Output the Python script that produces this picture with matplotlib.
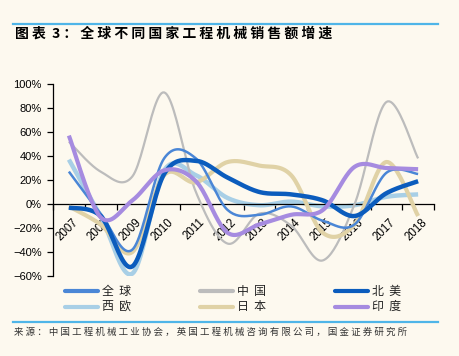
import numpy as np
import matplotlib
matplotlib.use("Agg")
import matplotlib.pyplot as plt
import matplotlib.transforms as mtransforms
from matplotlib.lines import Line2D
from matplotlib.ticker import FuncFormatter, FixedLocator

# 数据（年度销售额增速，%）
years = ["2007", "2008", "2009", "2010", "2011", "2012",
         "2013", "2014", "2015", "2016", "2017", "2018"]
quanqiu = [27, -8, -38, 38, 38, -5, -9, -2, -14, -17, 26, 25]
zhongguo = [52, 27, 23, 93, 10, -33, -8, -18, -47, 0, 85, 38]
beimei = [-3, -10, -52, 25, 36, 22, 10, 8, 3, -10, 9, 19]
xiou = [37, -10, -58, 28, 24, 5, -1, 2, -2, -1, 6, 8]
riben = [-2, -17, -40, 24, 18, 35, 32, 24, -24, -17, 35, -10]
yindu = [57, -11, 3, 28, 19, -24, -17, -9, -5, 31, 30, 29]

names = ["全  球", "西  欧", "中  国", "日  本", "北  美", "印  度"]
series = [quanqiu, xiou, zhongguo, riben, beimei, yindu]
colors = ["#4a86d6", "#a8cfe6", "#bcbcbc", "#e0d2a6", "#0b5cbd", "#a68be0"]
widths = [1.8, 3.2, 1.6, 3.0, 3.2, 3.0]
zorders = [5, 2, 3, 4, 6, 7]

bg = "#fdf9ef"
cjk = ["Noto Sans CJK SC", "DejaVu Sans"]


def smooth(vals, n=24):
    # Excel 风格的平滑曲线（贝塞尔）
    pts = np.column_stack([np.arange(len(vals)), np.asarray(vals, float)])
    p = np.vstack([pts[0], pts, pts[-1]])
    t = np.linspace(0, 1, n)[:, None]
    out = []
    for i in range(1, len(p) - 2):
        p0, p1, p2, p3 = p[i - 1], p[i], p[i + 1], p[i + 2]
        c1 = p1 + (p2 - p0) / 6
        c2 = p2 - (p3 - p1) / 6
        seg = (1 - t) ** 3 * p1 + 3 * (1 - t) ** 2 * t * c1 + 3 * (1 - t) * t ** 2 * c2 + t ** 3 * p2
        out.append(seg)
    return np.vstack(out)


W, H = 459, 356
fig = plt.figure(figsize=(W / 100, H / 100), dpi=100, facecolor=bg)
ax = fig.add_axes([53 / W, 1 - 276 / H, (434 - 53) / W, (276 - 84) / H])
ax.set_facecolor(bg)

for vals, c, lw, z in zip(series, colors, widths, zorders):
    s = smooth(vals)
    ax.plot(s[:, 0], s[:, 1], color=c, lw=lw, zorder=z, solid_capstyle="butt")

ax.set_xlim(-0.5, len(years) - 0.5)
ax.set_ylim(-60, 100)
ax.set_yticks(range(-60, 101, 20))
ax.yaxis.set_major_formatter(FuncFormatter(lambda v, p: f"{v:.0f}%".replace("-", "\u2212")))

ax.spines["top"].set_visible(False)
ax.spines["right"].set_visible(False)
ax.spines["bottom"].set_position(("data", 0))
ax.spines["left"].set_linewidth(0.9)
ax.spines["bottom"].set_linewidth(0.9)

# 刻度线在类别之间，标签在类别中心
ax.xaxis.set_major_locator(FixedLocator(np.arange(-0.5, len(years), 1.0)))
ax.tick_params(axis="x", which="major", direction="out", length=4, width=0.9, labelbottom=False)
ax.set_xticks(np.arange(len(years)), minor=True)
ax.tick_params(axis="x", which="minor", length=0, pad=9)
ax.set_xticklabels(years, minor=True, rotation=45, ha="right", va="top",
                   rotation_mode="anchor", fontsize=8.3, family="Liberation Sans")
shift = mtransforms.ScaledTranslation(3 / 100, 0, fig.dpi_scale_trans)
for lab in ax.get_xticklabels(minor=True):
    lab.set_zorder(10)
    lab.set_transform(lab.get_transform() + shift)
ax.tick_params(axis="y", direction="out", length=4, width=0.9, pad=4,
               labelsize=8)
for lab in ax.get_yticklabels():
    lab.set_family("Liberation Sans")

# 蓝色分隔线
for yy in (24, 321.5):
    fig.add_artist(Line2D([13 / W, 438 / W], [1 - yy / H, 1 - yy / H],
                          color="#4fb5e8", lw=1.6))

fig.text(15 / W, 1 - 34 / H, "图 表  3 ： 全 球 不 同 国 家 工 程 机 械 销 售 额 增 速",
         family=cjk, fontsize=10, fontweight="bold", ha="left", va="center")

fig.text(14 / W, 1 - 332 / H,
         "来 源 ： 中 国 工 程 机 械 工 业 协 会 ， 英 国 工 程 机 械 咨 询 有 限 公 司 ， 国 金 证 券 研 究 所",
         family=cjk, fontsize=6.8, color="#333333", ha="left", va="center")

# 图例
col_x = [65, 200, 335]
row_y = [291, 306.5]
for i, (nm, c, lw) in enumerate(zip(names, colors, widths)):
    cx = col_x[i // 2]
    ry = row_y[i % 2]
    fig.add_artist(Line2D([cx / W, (cx + 33) / W], [1 - ry / H, 1 - ry / H],
                          color=c, lw=3.0, solid_capstyle="round"))
    fig.text((cx + 37) / W, 1 - ry / H, nm, family=cjk, fontsize=8.6,
             ha="left", va="center", color="#222222")

fig.savefig("out.png", dpi=100, facecolor=bg)
